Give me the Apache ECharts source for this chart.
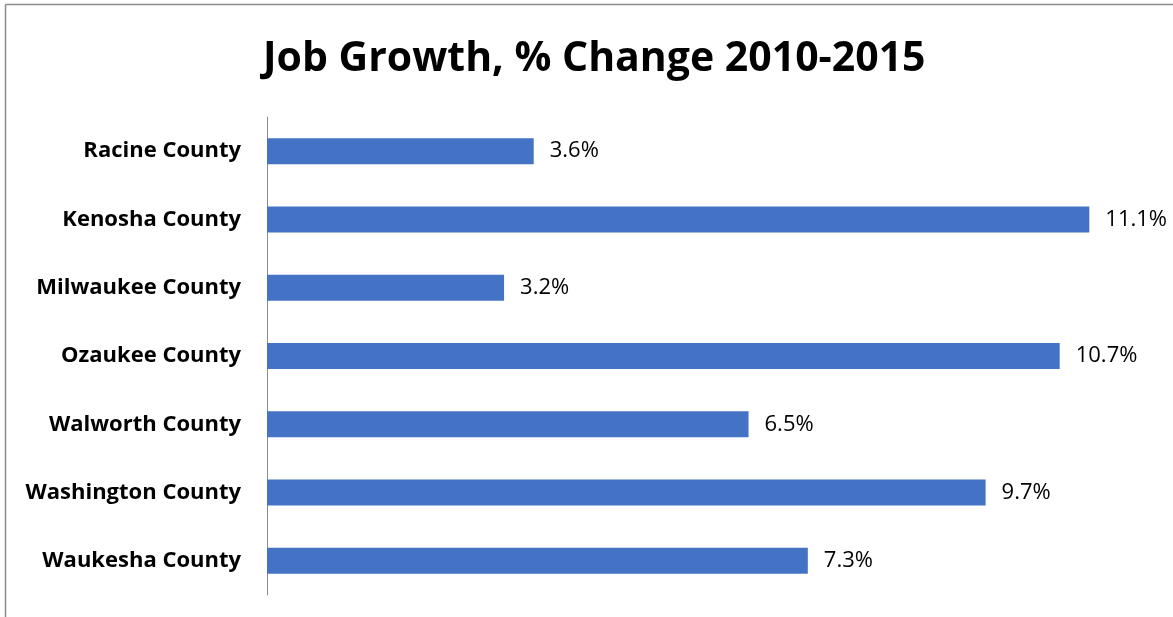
<!DOCTYPE html>
<html>
<head>
<meta charset="utf-8">
<script src="https://cdn.jsdelivr.net/npm/echarts@6/dist/echarts.min.js"></script>
<style>
  html, body { margin: 0; padding: 0; background: #fff; }
  #chart { width: 1173px; height: 617px; }
</style>
</head>
<body>
<div id="chart"></div>
<script>
// Counties, listed top to bottom as displayed
const counties = [
  'Racine County',
  'Kenosha County',
  'Milwaukee County',
  'Ozaukee County',
  'Walworth County',
  'Washington County',
  'Waukesha County'
];
// Job growth, percent change 2010-2015
const growth = [3.6, 11.1, 3.2, 10.7, 6.5, 9.7, 7.3];

const chart = echarts.init(document.getElementById('chart'));

chart.setOption({
  animation: false,
  backgroundColor: '#ffffff',
  title: {
    text: 'Job Growth, % Change 2010-2015',
    left: 258,
    top: 34,
    textStyle: {
      fontFamily: 'Open Sans',
      fontWeight: 'bold',
      fontSize: 41,
      color: '#000'
    }
  },
  // frame edges along the top and left
  graphic: [
    { type: 'line', shape: { x1: 5.5, y1: 4.5, x2: 1173, y2: 4.5 }, style: { stroke: '#8c8c8c', lineWidth: 1.5 } },
    { type: 'line', shape: { x1: 5.5, y1: 4.5, x2: 5.5, y2: 617 }, style: { stroke: '#8c8c8c', lineWidth: 1.5 } }
  ],
  grid: { left: 267, right: 17, top: 117, bottom: 22, containLabel: false },
  xAxis: {
    type: 'value',
    min: 0,
    max: 12,
    show: false
  },
  yAxis: {
    type: 'category',
    data: counties,
    inverse: true,
    axisLine: { show: true, lineStyle: { color: '#8c8c8c', width: 1 } },
    axisTick: { show: false },
    axisLabel: {
      margin: 26,
      fontFamily: 'Open Sans',
      fontWeight: 'bold',
      fontSize: 22,
      color: '#000'
    }
  },
  series: [{
    type: 'bar',
    data: growth,
    barWidth: 26,
    itemStyle: { color: '#4472C4' },
    label: {
      show: true,
      position: 'right',
      distance: 16,
      formatter: p => p.value.toFixed(1) + '%',
      fontFamily: 'Open Sans',
      fontSize: 22,
      color: '#000'
    }
  }]
});
</script>
</body>
</html>
